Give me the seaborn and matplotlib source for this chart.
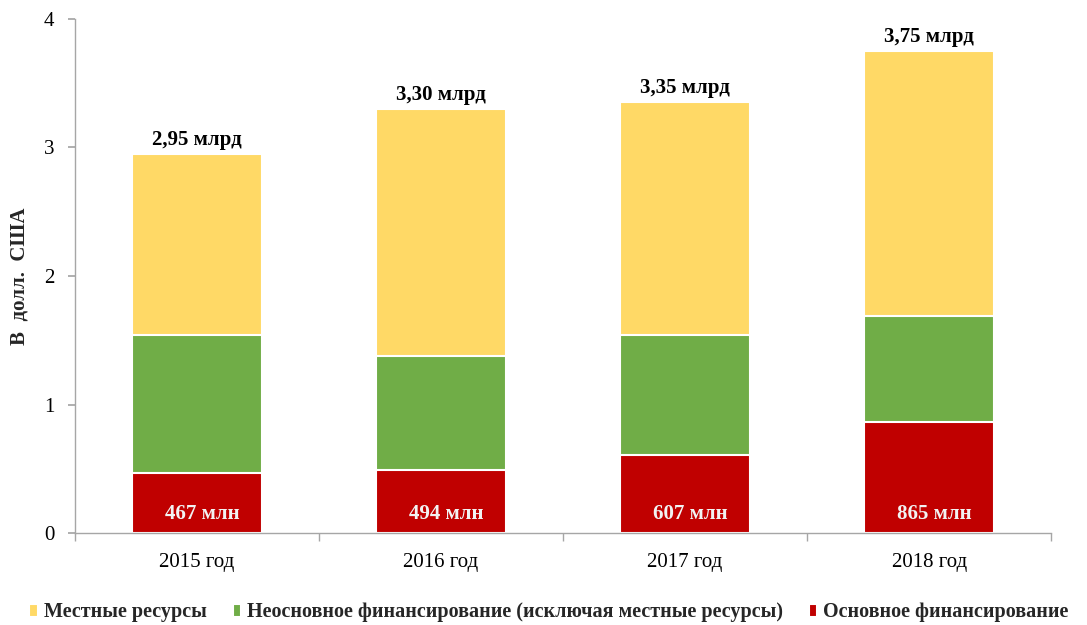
import numpy as np
import pandas as pd
import matplotlib
matplotlib.use("Agg")
import matplotlib.pyplot as plt
import seaborn as sns

# data (billions USD)
years = ["2015 год", "2016 год", "2017 год", "2018 год"]
core = [0.467, 0.494, 0.607, 0.865]
noncore = [1.073, 0.886, 0.933, 0.825]
local = [1.41, 1.92, 1.81, 2.06]
totals_lbl = ["2,95 млрд", "3,30 млрд", "3,35 млрд", "3,75 млрд"]
core_lbl = ["467 млн", "494 млн", "607 млн", "865 млн"]
series_names = ["Местные ресурсы",
                "Неосновное финансирование (исключая местные ресурсы)",
                "Основное финансирование"]

sns.set_theme(style="white")
plt.rcParams['font.family'] = ['Liberation Serif', 'DejaVu Serif']

df = pd.DataFrame({"year": years, "core": core, "noncore": noncore, "local": local})
df["c2"] = df["core"] + df["noncore"]
df["c3"] = df["c2"] + df["local"]

red, green, yellow = "#C00000", "#70AD47", "#FFD966"

fig = plt.figure(figsize=(10.87, 6.25), dpi=100)
ax = fig.add_axes([0.069, 0.147, 0.898, 0.823])

# stacked bars: draw cumulative totals from top down
for col, c, name in [("c3", yellow, series_names[0]),
                     ("c2", green, series_names[1]),
                     ("core", red, series_names[2])]:
    sns.barplot(data=df, x="year", y=col, color=c, width=0.53, ax=ax,
                saturation=1, edgecolor="white", linewidth=1.5, label=name)
if ax.get_legend() is not None:
    ax.get_legend().remove()

for i in range(len(years)):
    ax.text(i, df["c3"][i] + 0.03, totals_lbl[i], ha="center", va="bottom",
            fontsize=15, fontweight="bold", color="black")
    ax.text(i + 0.02, 0.15, core_lbl[i], ha="center", va="center",
            fontsize=15, fontweight="bold", color="#F2F2F2")

ax.set_xlim(-0.5, 3.5)
ax.set_ylim(0, 4)
ax.set_yticks([0, 1, 2, 3, 4])
ax.set_xlabel("")
ax.set_ylabel("В  долл.  США", fontsize=15, fontweight="bold")
ax.yaxis.set_label_coords(-0.047, 0.5)
ax.tick_params(axis="both", labelsize=15, colors="black")
ax.tick_params(axis="y", left=True, length=5, color="#A6A6A6", pad=10)
ax.tick_params(axis="x", bottom=False, pad=8)
ax.set_xticks(np.arange(-0.5, 4, 1), minor=True)
ax.tick_params(axis="x", which="minor", bottom=True, length=6, color="#A6A6A6")
for s in ["top", "right"]:
    ax.spines[s].set_visible(False)
for s in ["left", "bottom"]:
    ax.spines[s].set_color("#A6A6A6")
    ax.spines[s].set_linewidth(1)

handles, labels = ax.get_legend_handles_labels()
leg = fig.legend(handles, labels, loc="lower center", bbox_to_anchor=(0.505, -0.025),
                 ncol=3, frameon=False, handlelength=0.4, handleheight=0.6,
                 handletextpad=0.3, columnspacing=1.3,
                 prop={"family": "Liberation Serif", "weight": "bold", "size": 14.5})

fig.savefig("out.png", dpi=100)
